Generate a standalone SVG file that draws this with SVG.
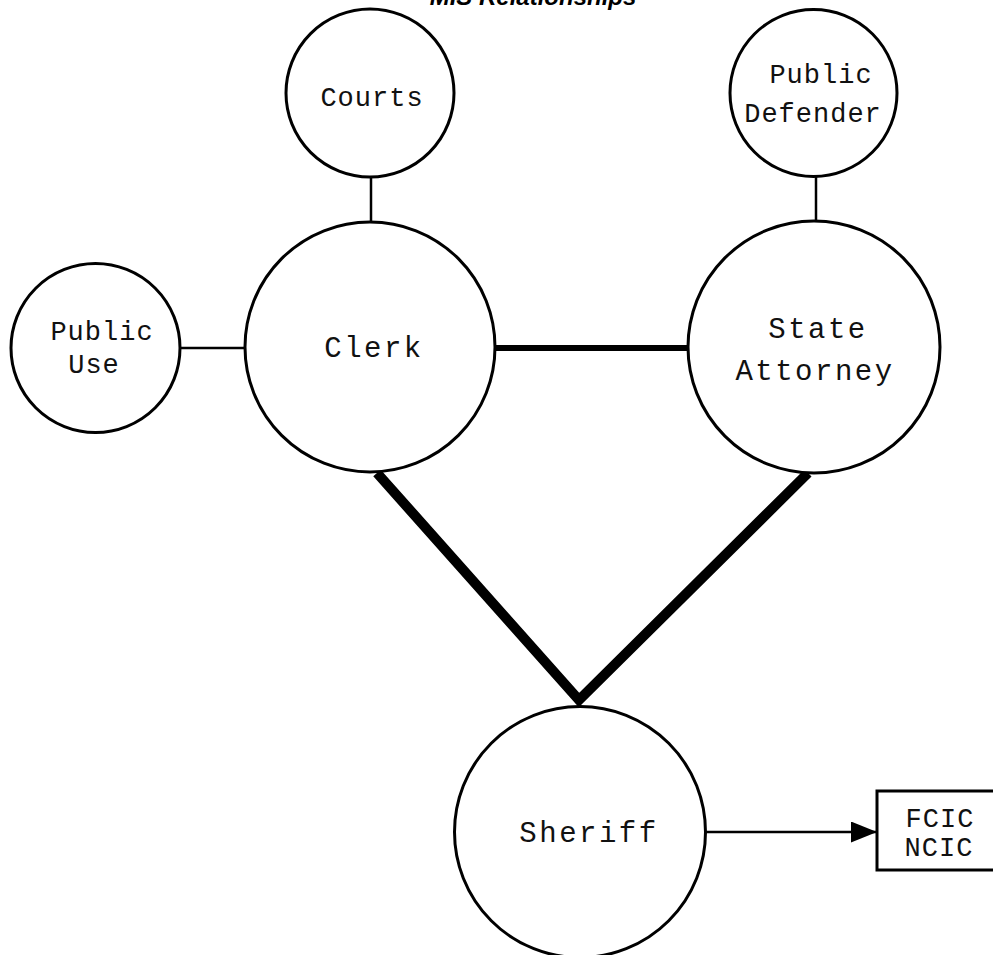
<svg xmlns="http://www.w3.org/2000/svg" width="993" height="955" viewBox="0 0 993 955">
  <style>
    .node { fill: #ffffff; stroke: #000000; stroke-width: 3; }
    .label-sm { font-family: "Liberation Mono", "Courier New", monospace; font-size: 27px; letter-spacing: 1px; fill: #111111; text-anchor: middle; }
    .label-lg { font-family: "Liberation Mono", "Courier New", monospace; font-size: 29px; letter-spacing: 2.5px; fill: #111111; text-anchor: middle; }
    .edge { fill: none; stroke: #000000; stroke-width: 2.5; }
    .edge-mid { fill: none; stroke: #000000; stroke-width: 6; }
    .edge-heavy { fill: none; stroke: #000000; stroke-width: 10; stroke-linejoin: miter; stroke-miterlimit: 10; }
    .title { font-family: "Liberation Sans", Arial, sans-serif; font-size: 24px; font-weight: bold; font-style: italic; fill: #000000; text-anchor: middle; }
  </style>
  <defs>
    <marker id="arrow" viewBox="0 0 26 21" refX="26" refY="10.5" markerWidth="26" markerHeight="21" markerUnits="userSpaceOnUse" orient="auto">
      <path d="M0,0 L26,10.5 L0,21 Z" fill="#000000"/>
    </marker>
  </defs>

  <rect width="993" height="955" fill="#ffffff"/>

  <text class="title" x="533" y="5">MIS Relationships</text>

  <!-- connectors -->
  <g id="connectors">
    <line class="edge" x1="371" y1="176" x2="371" y2="223"/>
    <line class="edge" x1="816" y1="176" x2="816" y2="223"/>
    <line class="edge" x1="179" y1="348" x2="246" y2="348"/>
    <line class="edge-mid" x1="494" y1="348" x2="689" y2="348"/>
    <path class="edge-heavy" d="M377,473 L579,700 L808,473"/>
    <line class="edge" x1="705" y1="832" x2="877" y2="832" marker-end="url(#arrow)"/>
  </g>

  <g id="courts">
    <circle class="node" cx="370" cy="93" r="84"/>
    <text class="label-sm" x="372" y="106">Courts</text>
  </g>

  <g id="public-defender">
    <circle class="node" cx="813.5" cy="93" r="83.5"/>
    <text class="label-sm" x="821" y="83">Public</text>
    <text class="label-sm" x="813" y="122">Defender</text>
  </g>

  <g id="public-use">
    <circle class="node" cx="95.5" cy="348" r="84.5"/>
    <text class="label-sm" x="102" y="340">Public</text>
    <text class="label-sm" x="94" y="373">Use</text>
  </g>

  <g id="clerk">
    <circle class="node" cx="370" cy="347" r="125"/>
    <text class="label-lg" x="374" y="357">Clerk</text>
  </g>

  <g id="state-attorney">
    <circle class="node" cx="814" cy="347" r="126"/>
    <text class="label-lg" x="818" y="338">State</text>
    <text class="label-lg" x="815" y="380">Attorney</text>
  </g>

  <g id="sheriff">
    <circle class="node" cx="580" cy="832" r="125.5"/>
    <text class="label-lg" x="589" y="842">Sheriff</text>
  </g>

  <g id="fcic-ncic">
    <rect class="node" x="877" y="791" width="130" height="79"/>
    <text class="label-sm" x="940" y="827">FCIC</text>
    <text class="label-sm" x="939" y="856">NCIC</text>
  </g>
</svg>
